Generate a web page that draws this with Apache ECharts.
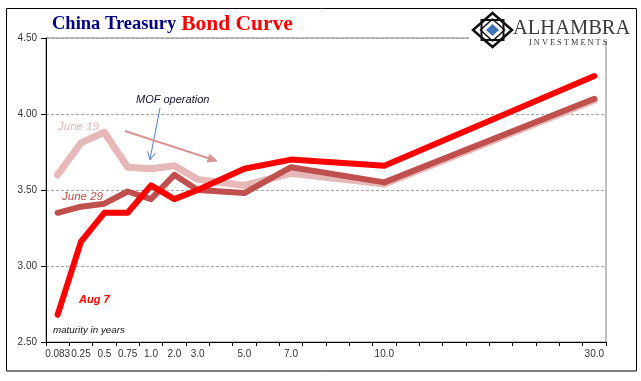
<!DOCTYPE html>
<html><head><meta charset="utf-8">
<script src="https://cdn.jsdelivr.net/npm/echarts/dist/echarts.min.js"></script>
<style>html,body{margin:0;padding:0;background:#fff}#c{width:641px;height:381px}</style>
</head><body><div id="c"></div><script>
// maturity slots (blank slots keep the original uneven spacing)
const categories = ['0.083','0.25','0.5','0.75','1.0','2.0','3.0','','5.0','','7.0','','','','10.0','','','','','','','','','30.0'];
const june19 = [3.60,3.81,3.88,3.65,3.64,3.66,3.57,null,3.53,null,3.61,null,null,null,3.54,null,null,null,null,null,null,null,null,4.09];
const june29 = [3.35,3.39,3.41,3.49,3.44,3.60,3.50,null,3.48,null,3.65,null,null,null,3.55,null,null,null,null,null,null,null,null,4.10];
const aug7   = [2.68,3.16,3.35,3.35,3.53,3.44,3.50,null,3.64,null,3.70,null,null,null,3.66,null,null,null,null,null,null,null,null,4.25];
const yTicks = [2.5,3.0,3.5,4.0,4.5];

const chart = echarts.init(document.getElementById('c'), null, {renderer:'canvas'});

function arrowHead(x1,y1,x2,y2,len,half){
  const dx=x2-x1, dy=y2-y1, L=Math.hypot(dx,dy), ux=dx/L, uy=dy/L;
  const bx=x2-ux*len, by=y2-uy*len, px=-uy, py=ux;
  return [[bx+px*half,by+py*half],[x2,y2],[bx-px*half,by-py*half]];
}

const cx=492.5, cy=30;
const graphics = [
  {type:'rect', z:50, shape:{x:6.5,y:8.5,width:630,height:362.5}, style:{fill:'none',stroke:'#000',lineWidth:1}},
  {type:'rect', z:60, shape:{x:469,y:10,width:166,height:31}, style:{fill:'#fff'}},
  {type:'polygon', z:70, shape:{points:[[cx,cy-17],[cx+19.5,cy],[cx,cy+17],[cx-19.5,cy]]}, style:{fill:'none',stroke:'#111',lineWidth:2.5}},
  {type:'rect', z:70, shape:{x:cx-11,y:cy-10,width:22,height:20}, style:{fill:'none',stroke:'#111',lineWidth:2}},
  {type:'polygon', z:70, shape:{points:[[cx,cy-11],[cx+12,cy],[cx,cy+11],[cx-12,cy]]}, style:{fill:'none',stroke:'#111',lineWidth:1.5}},
  {type:'polygon', z:71, shape:{points:[[cx,cy-6],[cx+6.5,cy],[cx,cy+6],[cx-6.5,cy]]}, style:{fill:'#3E73BA'}},
  {type:'text', z:72, style:{x:513,y:28.5,text:'ALHAMBRA',fontFamily:'Liberation Serif',fontSize:20.5,fill:'#3a3a3a',verticalAlign:'middle'}},
  {type:'text', z:72, style:{x:529,y:43,text:'I N V E S T M E N T S',fontFamily:'Liberation Serif',fontSize:8.3,fill:'#333',verticalAlign:'middle'}},
  {type:'text', z:80, style:{x:136,y:100,text:'MOF operation',fontFamily:'Liberation Sans',fontStyle:'italic',fontSize:11,fill:'#111133',verticalAlign:'middle'}},
  {type:'text', z:80, style:{x:58,y:127,text:'June 19',fontFamily:'Liberation Sans',fontStyle:'italic',fontSize:11.5,fill:'#E6B9B8',verticalAlign:'middle'}},
  {type:'text', z:80, style:{x:62,y:197,text:'June 29',fontFamily:'Liberation Sans',fontStyle:'italic',fontSize:11.5,fill:'#C0504D',verticalAlign:'middle'}},
  {type:'text', z:80, style:{x:79,y:300,text:'Aug 7',fontFamily:'Liberation Sans',fontStyle:'italic',fontWeight:'bold',fontSize:11,fill:'#FF0000',verticalAlign:'middle'}},
  {type:'text', z:80, style:{x:53,y:330,text:'maturity in years',fontFamily:'Liberation Sans',fontStyle:'italic',fontSize:9.8,fill:'#111',verticalAlign:'middle'}},
  {type:'line', z:80, shape:{x1:160,y1:108,x2:150,y2:159}, style:{stroke:'#4F81BD',lineWidth:1}},
  {type:'polyline', z:80, shape:{points:arrowHead(160,108,150,160,8,4)}, style:{stroke:'#4F81BD',lineWidth:1,fill:'none'}},
  {type:'line', z:80, shape:{x1:125,y1:131,x2:214,y2:160}, style:{stroke:'#D99694',lineWidth:2}},
  {type:'polygon', z:80, shape:{points:arrowHead(125,131,217,161,9,4)}, style:{fill:'#D99694',stroke:'#D99694',lineWidth:1}}
];

const lineSeries = (name, data, color, w) => ({
  name, type:'line', data, connectNulls:true, showSymbol:false, symbol:'none', smooth:false,
  lineStyle:{color, width:w, cap:'round', join:'round'}, itemStyle:{color}, emphasis:{disabled:true}, animation:false
});

chart.setOption({
  animation:false,
  backgroundColor:'#fff',
  title:{left:52, top:13, padding:0, text:'{a|China Treasury} {b|Bond Curve}',
    textStyle:{rich:{
      a:{fontFamily:'Liberation Serif',fontSize:18.5,color:'#000080'},
      b:{fontFamily:'Liberation Serif',fontSize:21.5,fontWeight:'bold',color:'#FF0000'}}}},
  grid:{left:46,right:35,top:38,bottom:39,show:true,borderColor:'#808080',borderWidth:1,backgroundColor:'transparent'},
  xAxis:{type:'category', data:categories, boundaryGap:true,
    axisLine:{lineStyle:{color:'#000',width:1}},
    axisTick:{show:true, interval:0, length:4, lineStyle:{color:'#000'}},
    axisLabel:{interval:0, fontSize:10, color:'#333', margin:7, fontFamily:'Liberation Sans'},
    splitLine:{show:false}},
  yAxis:{type:'value', min:yTicks[0], max:yTicks[yTicks.length-1], interval:0.5,
    axisLine:{show:true, lineStyle:{color:'#000'}},
    axisTick:{show:true, length:5, lineStyle:{color:'#000'}},
    axisLabel:{formatter:v=>v.toFixed(2), fontSize:10, color:'#333', margin:9, fontFamily:'Liberation Sans'},
    splitLine:{show:true, lineStyle:{color:'#A6A6A6', type:[3,2]}}},
  series:[
    lineSeries('June 19', june19, '#E6B9B8', 7),
    lineSeries('June 29', june29, '#C0504D', 6),
    lineSeries('Aug 7', aug7, '#FF0000', 6)
  ],
  graphic:graphics
});
</script></body></html>
